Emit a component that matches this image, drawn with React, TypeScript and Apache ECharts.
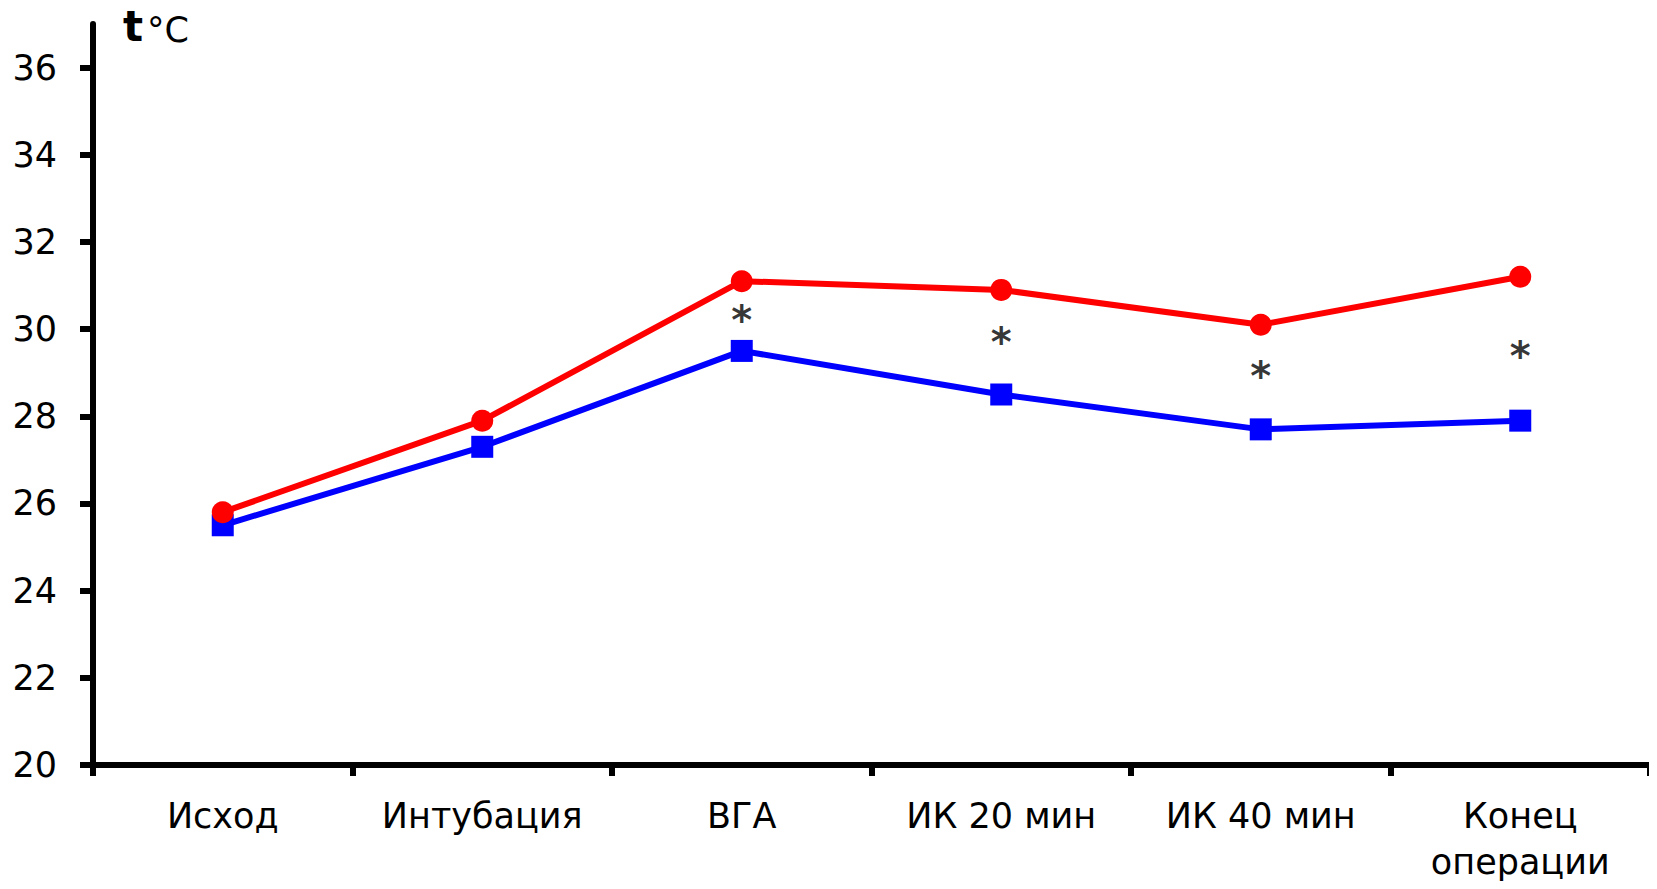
import React, { useEffect, useRef } from "react";
import * as echarts from "echarts";

const categories = ["Исход", "Интубация", "ВГА", "ИК 20 мин", "ИК 40 мин", "Конец\nоперации"];
const redSeries = [25.8, 27.9, 31.1, 30.9, 30.1, 31.2];
const blueSeries = [25.5, 27.3, 29.5, 28.5, 27.7, 27.9];
const asteriskPositions: (number | null)[] = [null, null, 30.36, 29.87, 29.09, 29.55];
const yTicks = [20, 22, 24, 26, 28, 30, 32, 34, 36];

const FONT = "DejaVu Sans";

export default function App() {
  const ref = useRef<HTMLDivElement>(null);
  useEffect(() => {
    if (!ref.current) return;
    const chart = echarts.init(ref.current, null, { renderer: "svg" });
    chart.setOption({
      animation: false,
      backgroundColor: "#ffffff",
      grid: { left: 93, right: 7, top: 24, bottom: 124, containLabel: false, outerBoundsMode: "none" },
      graphic: [
        {
          type: "text",
          left: 123,
          top: 5,
          style: { text: "t", font: `bold 42px ${FONT}`, fill: "#000" },
        },
        {
          type: "text",
          left: 147,
          top: 12,
          style: { text: "°C", font: `35px ${FONT}`, fill: "#000" },
        },
      ],
      xAxis: {
        type: "category",
        data: categories,
        boundaryGap: true,
        axisLine: { lineStyle: { color: "#000", width: 6 } },
        axisTick: { show: true, interval: 0, length: 11, lineStyle: { color: "#000", width: 6 } },
        axisLabel: {
          interval: 0,
          color: "#000",
          fontFamily: FONT,
          fontSize: 35,
          lineHeight: 46,
          margin: 28,
        },
        splitLine: { show: false },
      },
      yAxis: {
        type: "value",
        min: 20,
        max: 37,
        axisLine: { show: true, lineStyle: { color: "#000", width: 6 } },
        axisTick: {
          show: true,
          length: 13,
          customValues: yTicks,
          lineStyle: { color: "#000", width: 6 },
        },
        axisLabel: {
          color: "#000",
          fontFamily: FONT,
          fontSize: 35,
          margin: 36,
          customValues: yTicks,
        },
        splitLine: { show: false },
      },
      series: [
        {
          type: "line",
          data: redSeries,
          symbol: "circle",
          symbolSize: 22,
          lineStyle: { color: "#ff0000", width: 6 },
          itemStyle: { color: "#ff0000" },
          z: 3,
        },
        {
          type: "line",
          data: blueSeries,
          symbol: "rect",
          symbolSize: 22,
          lineStyle: { color: "#0000ff", width: 6 },
          itemStyle: { color: "#0000ff" },
          z: 2,
        },
        {
          type: "scatter",
          data: asteriskPositions.map((v) => (v == null ? "-" : v)),
          symbolSize: 0,
          label: {
            show: true,
            position: "inside",
            formatter: "*",
            color: "#000",
            fontFamily: FONT,
            fontWeight: "bold",
            fontSize: 40,
            offset: [0, 7],
          },
          z: 4,
        },
      ],
    });
    return () => chart.dispose();
  }, []);
  return <div ref={ref} style={{ width: 1657, height: 889, margin: -8 }} />;
}
